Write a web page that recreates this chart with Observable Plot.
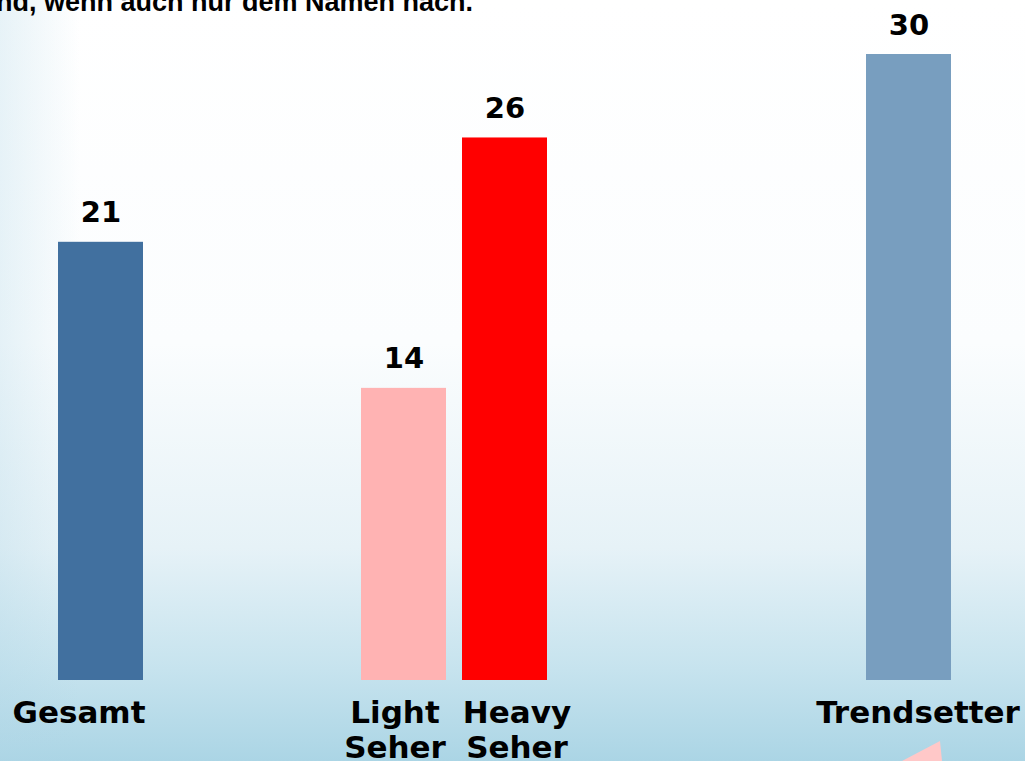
<!DOCTYPE html>
<html>
<head>
<meta charset="utf-8">
<script src="https://cdn.jsdelivr.net/npm/d3@7"></script>
<script src="https://cdn.jsdelivr.net/npm/@observablehq/plot@0.6"></script>
<style>
  html, body { margin: 0; padding: 0; }
  body {
    width: 1025px; height: 761px; overflow: hidden; position: relative;
    background:
      linear-gradient(to right, rgba(176, 214, 230, 0.3) 0px, rgba(176, 214, 230, 0) 80px),
      linear-gradient(to bottom, #ffffff 0%, #fbfdfe 45%, #e6f2f7 72%, #c6e3ee 88%, #abd5e5 100%);
  }
  #headline {
    position: absolute; left: -4px; top: -13px; margin: 0;
    font: bold 27px "Liberation Sans", Arial, sans-serif; color: #000; white-space: nowrap;
  }
  #chart { position: absolute; left: 0; top: 0; }
  #chart svg { background: transparent; overflow: visible; }
  g[aria-label="values"] text { letter-spacing: 2px; }
  #pointer {
    position: absolute; left: 902px; top: 741px; width: 40px; height: 20px;
    background: #ffc8c8; clip-path: polygon(95% 0, 0 100%, 100% 100%);
  }
</style>
</head>
<body>
<div id="headline">nd, wenn auch nur dem Namen nach.</div>
<div id="chart"></div>
<div id="pointer"></div>
<script>
// Share of respondents per group (percent)
const groups = ["Gesamt", "Light Seher", "Heavy Seher", "Trendsetter"];
const labels = ["Gesamt", "Light\nSeher", "Heavy\nSeher", "Trendsetter"];
const values = [21, 14, 26, 30];
const colors = ["#41709f", "#ffb3b3", "#ff0000", "#789ebf"];

// Horizontal slots: empty slots keep the three blocks apart
const slots = ["Gesamt", "_a", "_b", "Light Seher", "Heavy Seher", "_c", "_d", "_e", "Trendsetter"];

const rows = groups.map((g, i) => ({group: g, label: labels[i], value: values[i], color: colors[i]}));

// small per-label horizontal nudges of the category captions
const labelShift = {"Gesamt": -22, "Light Seher": -9, "Heavy Seher": 12, "Trendsetter": 9};

const font = "'DejaVu Sans', Verdana, sans-serif";

const chart = Plot.plot({
  width: 1025,
  height: 761,
  marginTop: 54,
  marginBottom: 81,
  marginLeft: 58,
  marginRight: 74,
  style: {background: "transparent", fontFamily: font},
  x: {type: "band", domain: slots, paddingInner: 0.16, paddingOuter: 0, axis: null},
  y: {domain: [0, 30], axis: null},
  marks: [
    Plot.barY(rows, {x: "group", y: "value", fill: "color"}),
    Plot.text(rows, {
      x: "group", y: "value", text: d => String(d.value),
      lineAnchor: "bottom", dy: -20, fontSize: 29, fontWeight: "bold", fill: "#000",
      ariaLabel: "values"
    }),
    ...rows.map(r => Plot.text([r], {
      x: "group", y: 0, text: "label",
      lineAnchor: "top", dy: 17, dx: labelShift[r.group], lineHeight: 1.14,
      fontSize: 31, fontWeight: "bold", fill: "#000"
    }))
  ]
});
document.getElementById("chart").appendChild(chart);
</script>
</body>
</html>
